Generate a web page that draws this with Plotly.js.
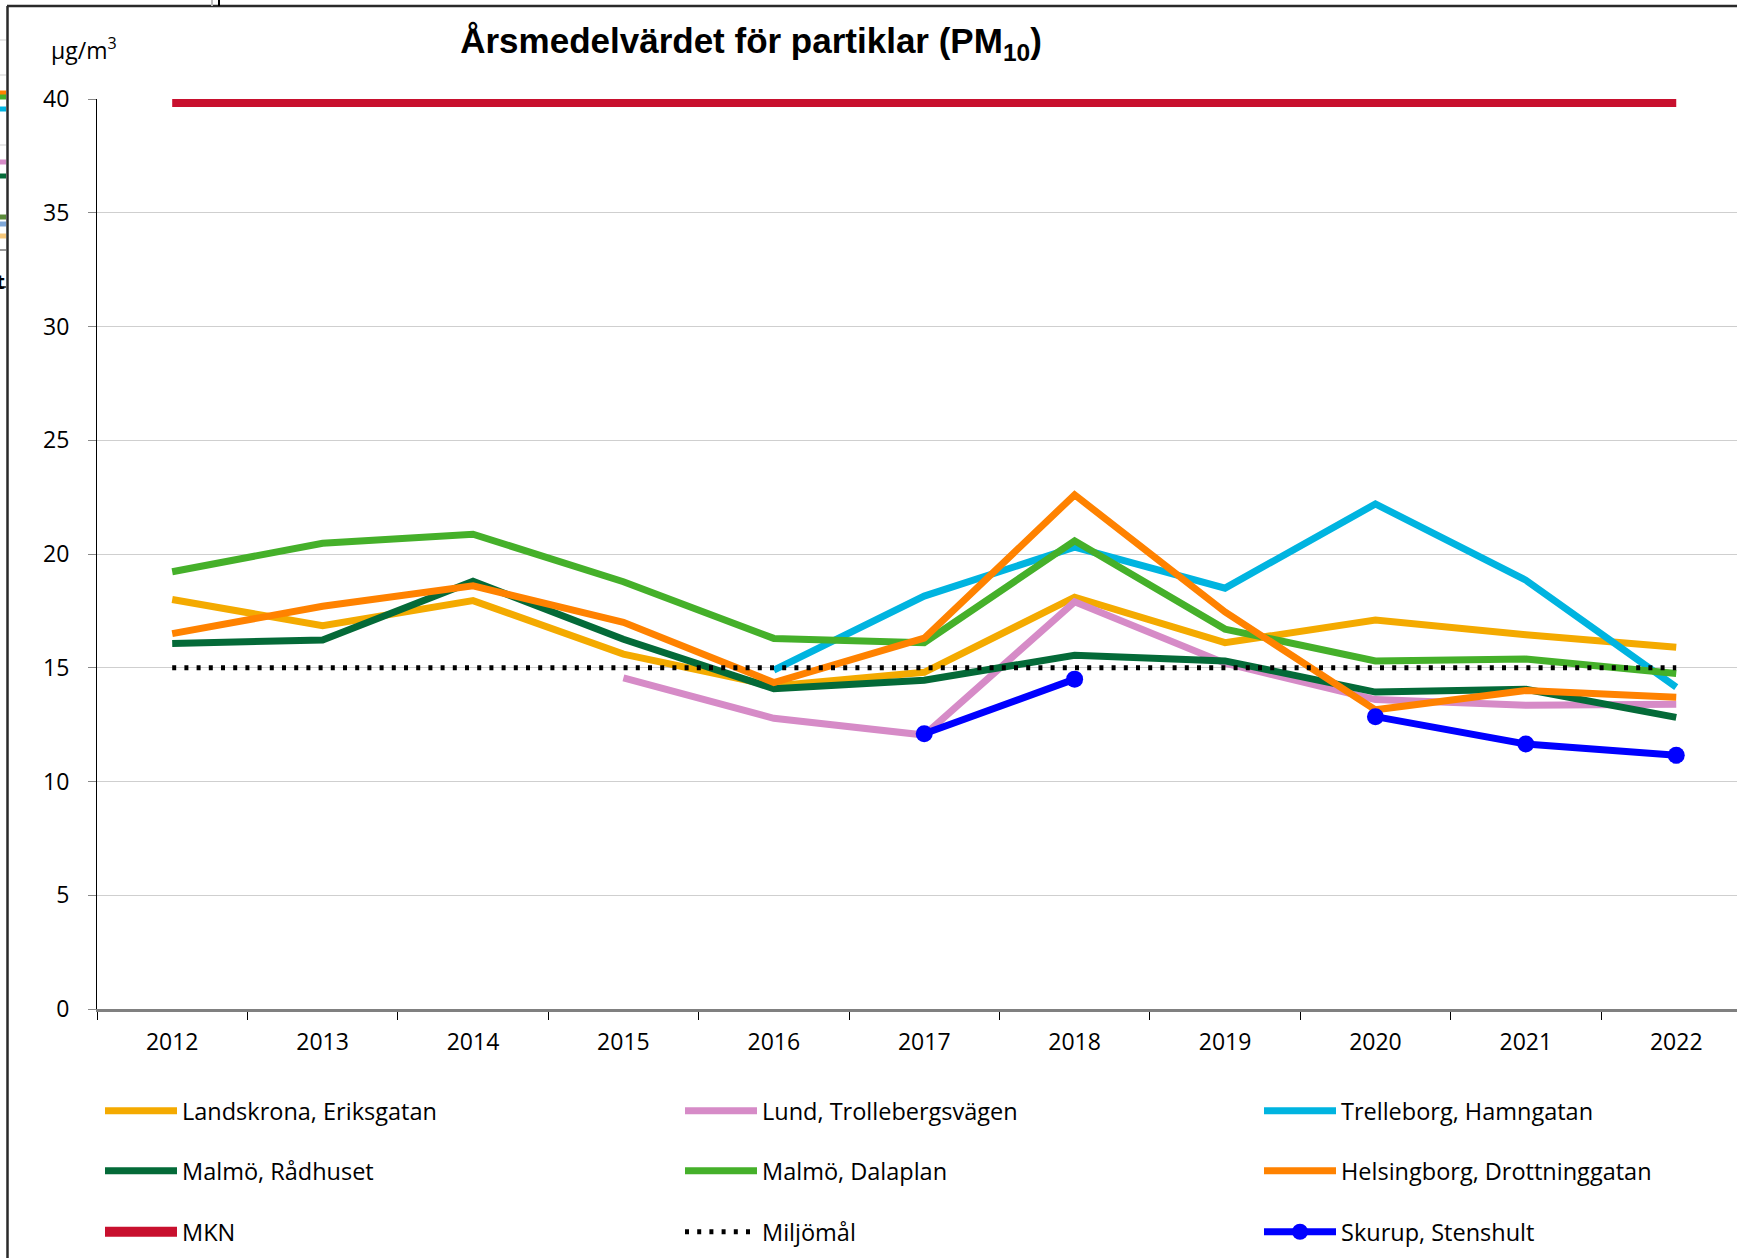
<!DOCTYPE html>
<html>
<head>
<meta charset="utf-8">
<script src="https://cdn.plot.ly/plotly-3.0.1.min.js"></script>
<style>html,body{margin:0;padding:0;background:#fff;}#chart{width:1737px;height:1258px;}</style>
</head>
<body>
<div id="chart"></div>
<script>
// ---- data ----
const years = ['2012','2013','2014','2015','2016','2017','2018','2019','2020','2021','2022'];
const landskrona    = [18.0, 16.85, 17.95, 15.6, 14.2, 14.8, 18.1, 16.1, 17.1, 16.45, 15.9];
const lund          = [null, null, null, 14.55, 12.78, 12.04, 17.9, 15.2, 13.6, 13.35, 13.4];
const trelleborg    = [null, null, null, null, 14.9, 18.15, 20.3, 18.5, 22.2, 18.85, 14.15];
const malmoRadhuset = [16.07, 16.22, 18.8, 16.25, 14.08, 14.45, 15.55, 15.3, 13.93, 14.05, 12.82];
const malmoDalaplan = [19.22, 20.47, 20.87, 18.78, 16.29, 16.1, 20.58, 16.7, 15.3, 15.38, 14.75];
const helsingborg   = [16.5, 17.7, 18.6, 17.0, 14.35, 16.3, 22.6, 17.45, 13.15, 14.0, 13.7];
const mkn           = [40, 40, 40, 40, 40, 40, 40, 40, 40, 40, 40];
const miljomal      = [15, 15, 15, 15, 15, 15, 15, 15, 15, 15, 15];
const skurup        = [null, null, null, null, null, 12.1, 14.5, null, 12.85, 11.65, 11.15];

const seriesNames = ['Landskrona, Eriksgatan','Lund, Trollebergsvägen','Trelleborg, Hamngatan',
  'Malmö, Rådhuset','Malmö, Dalaplan','Helsingborg, Drottninggatan','MKN','Miljömål','Skurup, Stenshult'];
const yTicks = [0,5,10,15,20,25,30,35,40];

// ---- geometry helpers (pixel -> paper) ----
const W = 1737, H = 1258, ML = 97, MR = 0, MT = 99, MB = 249;
const PW = W - ML - MR, PH = H - MT - MB;
const px = X => (X - ML) / PW;
const py = Y => (H - MB - Y) / PH;

const font = 'Open Sans, Noto Sans, DejaVu Sans, sans-serif';
const legendIds = ['legend','legend2','legend3','legend4','legend5','legend6','legend7','legend8','legend9'];
const legendCols = [100, 680, 1259];
const legendRows = [1111, 1171, 1232];

function line(i, y, color, width, extra) {
  return Object.assign({
    type: 'scatter', mode: 'lines', x: years, y: y, name: seriesNames[i],
    line: {color: color, width: width}, legend: legendIds[i], connectgaps: false,
    showlegend: true, hoverinfo: 'skip'
  }, extra || {});
}

const traces = [
  line(0, landskrona, '#F4AA00', 7),
  line(1, lund, '#D68BC7', 7),
  line(2, trelleborg, '#00B4E0', 7),
  line(3, malmoRadhuset, '#046A38', 7),
  line(4, malmoDalaplan, '#45B02A', 7),
  line(5, helsingborg, '#FF8200', 7),
  line(6, mkn, '#C8102E', 16),
  line(7, miljomal, '#000000', 5, {line: {color: '#000', width: 5, dash: '4px,8.2px'}}),
  line(8, skurup, '#0000FF', 7, {mode: 'lines+markers', marker: {color: '#0000FF', size: 17}})
];

function legendAt(X, Y) {
  return {
    orientation: 'h', x: px(X), xanchor: 'left', y: py(Y), yanchor: 'middle',
    itemwidth: 72, visible: true,
    font: {family: font, size: 23.5, color: '#000'}, bgcolor: 'rgba(0,0,0,0)',
    borderwidth: 0, itemclick: false, itemdoubleclick: false
  };
}

// frame & left remnants (decoration)
const shapes = [];
const frameCol = '#2a2a2a';
shapes.push({type: 'line', xref: 'paper', yref: 'paper', x0: px(7.5), x1: px(7.5), y0: py(H), y1: py(6), line: {color: frameCol, width: 2.5}});
shapes.push({type: 'line', xref: 'paper', yref: 'paper', x0: px(7), x1: px(W), y0: py(6), y1: py(6), line: {color: frameCol, width: 2.5}});
shapes.push({type: 'line', xref: 'paper', yref: 'paper', x0: px(219), x1: px(219), y0: py(0), y1: py(6), line: {color: '#000', width: 2}});
shapes.push({type: 'line', xref: 'paper', yref: 'paper', x0: px(212), x1: px(212), y0: py(0), y1: py(6), line: {color: '#bbb', width: 2}});
[[40,'#cfcfcf',1],[75,'#cfcfcf',1],[145,'#cfcfcf',1],[250,'#777',1.5],[287,'#222',1.5]].forEach(g => {
  shapes.push({type: 'line', xref: 'paper', yref: 'paper', x0: px(0), x1: px(6), y0: py(g[0]), y1: py(g[0]), line: {color: g[1], width: g[2]}});
});
[[93,'#FF8200'],[97,'#45B02A'],[109,'#00B4E0'],[162,'#D68BC7'],[176,'#046A38'],[217,'#5a8a3a'],[224,'#7fa7d8'],[236,'#F6C77a']].forEach(g => {
  shapes.push({type: 'line', xref: 'paper', yref: 'paper', x0: px(0), x1: px(6), y0: py(g[0]), y1: py(g[0]), line: {color: g[1], width: 5}});
});

const layout = {
  width: W, height: H,
  margin: {l: ML, r: MR, t: MT, b: MB, pad: 0},
  paper_bgcolor: '#fff', plot_bgcolor: '#fff',
  showlegend: true,
  font: {family: font, size: 23, color: '#000'},
  title: {
    text: 'Årsmedelvärdet för partiklar (PM<sub>10</sub>)',
    font: {family: 'Liberation Sans Narrow, Liberation Sans, sans-serif', size: 35, weight: 'bold', color: '#000'},
    xref: 'container', yref: 'container', x: 751 / W, xanchor: 'center', y: 1 - 41 / H, yanchor: 'middle'
  },
  xaxis: {
    type: 'category', range: [-0.5, 10.404], tickson: 'boundaries',
    ticks: 'outside', ticklen: 8, tickwidth: 1, tickcolor: '#000',
    showline: true, linecolor: '#808080', linewidth: 2.5,
    showgrid: false, zeroline: false, fixedrange: true,
    tickfont: {family: font, size: 23, color: '#000'}, ticklabelstandoff: 11
  },
  yaxis: {
    range: [0, 40], tickvals: yTicks, ticktext: yTicks.map(String),
    ticks: 'outside', ticklen: 8, tickwidth: 1, tickcolor: '#888',
    showline: true, linecolor: '#000', linewidth: 1,
    showgrid: true, gridcolor: '#CFCFCF', gridwidth: 1,
    zeroline: false, fixedrange: true,
    tickfont: {family: font, size: 23, color: '#000'}, ticklabelstandoff: 14
  },
  shapes: shapes,
  annotations: [
    {text: 'µg/m<sup>3</sup>', xref: 'paper', yref: 'paper', x: px(49), y: py(49), xanchor: 'left', yanchor: 'middle',
     showarrow: false, font: {family: font, size: 23, color: '#000'}},
    {text: '<b>nt</b>', xref: 'paper', yref: 'paper', x: px(7), y: py(281), xanchor: 'right', yanchor: 'middle',
     showarrow: false, font: {family: font, size: 20, color: '#000'}}
  ],
  hovermode: false
};
legendIds.forEach((id, i) => {
  layout[id] = legendAt(legendCols[i % 3], legendRows[Math.floor(i / 3)]);
});

Plotly.newPlot('chart', traces, layout, {staticPlot: true, displayModeBar: false});
</script>
</body>
</html>
